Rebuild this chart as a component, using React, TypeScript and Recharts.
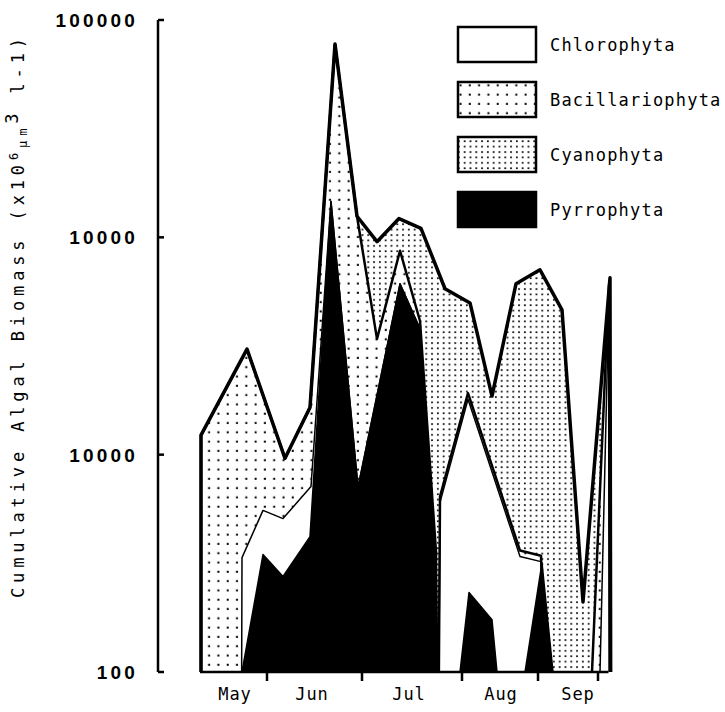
import React from 'react';
import { ComposedChart, Area, Line, XAxis, YAxis, ReferenceLine, Legend } from 'recharts';

// ---- axis data ----
const monthBoundaries = [21.8, 40.8, 60.8, 76, 88];
const monthCentres = [15.4, 30.8, 50.2, 68.6, 84];
const monthNames = ['May', 'Jun', 'Jul', 'Aug', 'Sep'];
const yTicks = [100, 1000, 10000, 100000];
const yTickLabels = ['100', '10000', '10000', '100000'];
const seriesNames = ['Chlorophyta', 'Bacillariophyta', 'Cyanophyta', 'Pyrrophyta'];

// ---- cumulative biomass boundaries (sampling position along season, value) ----
// values below 100 lie under the axis floor
// top of all groups (Cyanophyta band on top)
const totalT = [8.6, 8.6, 17.8, 25.4, 30.4, 35.4, 39.8, 43.8, 48.2, 52.6, 57.4, 62.4, 66.8, 71.6, 76.4, 80.8, 85.0, 90.4, 90.6];
const totalV = [10, 1230, 3060, 962, 1650, 77500, 12500, 9550, 12200, 11000, 5800, 4990, 1860, 6110, 7090, 4640, 210, 6510, 10];
// top of Bacillariophyta
const bacilT = [8.6, 8.6, 17.8, 25.4, 30.4, 35.4, 39.8, 43.8, 48.4, 52.4, 55.6, 55.9, 56.4, 62.0, 72.4, 76.6, 79.0, 86.7, 86.8, 90.2, 90.4];
const bacilV = [10, 1230, 3060, 962, 1650, 77500, 12500, 3410, 8680, 4120, 358, 10, 642, 1920, 362, 343, 10, 10, 100, 6050, 10];
// top of Chlorophyta
const chloroT = [16.6, 16.8, 21.0, 25.0, 30.6, 34.6, 40.0, 48.4, 52.4, 55.6, 55.9, 56.4, 62.0, 72.4, 76.6, 79.0, 88.3, 88.4, 90.2, 90.4];
const chloroV = [10, 336, 554, 508, 714, 14600, 707, 6110, 3790, 329, 10, 603, 1800, 340, 322, 10, 10, 100, 5500, 10];
// top of Pyrrophyta
const pyrroT = [16.6, 16.8, 21.0, 25.0, 30.4, 34.6, 40.0, 48.4, 52.4, 55.6, 56.0, 56.1, 60.3, 60.4, 62.2, 66.8, 67.8, 67.9, 73.3, 73.4, 76.8, 79.0, 79.1];
const pyrroV = [10, 100, 347, 275, 420, 14600, 707, 6110, 3790, 329, 100, 10, 10, 100, 232, 174, 100, 10, 10, 100, 318, 100, 10];

const toPoints = (ts: number[], vs: number[]) => ts.map((t, i) => ({ t, v: vs[i] }));
const totalData = toPoints(totalT, totalV);
const bacilData = toPoints(bacilT, bacilV);
const chloroData = toPoints(chloroT, chloroV);
const pyrroData = toPoints(pyrroT, pyrroV);

const MONO = '"DejaVu Sans Mono", monospace';

const Patterns = ({ prefix }: { prefix: string }) => (
  <defs>
    <pattern id={`${prefix}sparse`} width={9.3} height={9.3} patternUnits="userSpaceOnUse">
      <rect width={9.3} height={9.3} fill="#fff" />
      <rect x={3.5} y={3.5} width={2} height={2} fill="#000" />
    </pattern>
    <pattern id={`${prefix}dense`} width={5.8} height={5.4} patternUnits="userSpaceOnUse">
      <rect width={5.8} height={5.4} fill="#fff" />
      <rect x={2} y={2} width={1.7} height={1.7} fill="#000" />
    </pattern>
  </defs>
);

const legendFills = ['#fff', 'url(#lg-sparse)', 'url(#lg-dense)', '#000'];

const LegendContent = () => (
  <svg width={267} height={215}>
    <Patterns prefix="lg-" />
    {seriesNames.map((name, i) => {
      const top = 2 + i * 55;
      return (
        <g key={name}>
          <rect x={2} y={top} width={78} height={35} fill={legendFills[i]} stroke="#000" strokeWidth={2.5} />
          <text x={94} y={top + 18} dominantBaseline="central" fontFamily={MONO} fontSize={17} letterSpacing={1.2} fill="#000">
            {name}
          </text>
        </g>
      );
    })}
  </svg>
);

const YTick = (props: any) => {
  const { x, y, payload } = props;
  const idx = yTicks.indexOf(payload.value);
  return (
    <g>
      <line x1={x} x2={x + 6} y1={y} y2={y} stroke="#000" strokeWidth={2.5} />
      <text x={x - 20} y={y} dy={7} textAnchor="end" fontFamily='"Liberation Sans", Arial, sans-serif' fontWeight={700} fontSize={19} letterSpacing={3.2} fill="#000">
        {idx >= 0 ? yTickLabels[idx] : ''}
      </text>
    </g>
  );
};

const YTitle = () => (
  <text
    transform="translate(24, 318) rotate(-90)"
    x={0}
    y={0}
    textAnchor="middle"
    fontFamily={MONO}
    fontSize={17}
    fill="#000"
    textLength={560}
    lengthAdjust="spacing"
  >
    Cumulative Algal Biomass (x10
    <tspan dy={-6} fontSize={12}>6</tspan>
    <tspan dy={9} fontSize={12}>µm</tspan>
    <tspan dy={-9}>3</tspan>
    <tspan dy={6}> l-1)</tspan>
  </text>
);

export default function App() {
  return (
    <div>
      <style>{'body{margin:0;background:#fff}'}</style>
      <ComposedChart width={725} height={712} margin={{ top: 20, right: 107, bottom: 0, left: 0 }}>
        <Patterns prefix="pt-" />
        <XAxis
          dataKey="t"
          type="number"
          domain={[0, 92]}
          allowDataOverflow
          ticks={monthBoundaries}
          interval={0}
          axisLine={false}
          tickLine={{ stroke: '#000', strokeWidth: 2.5 }}
          tickSize={9}
          tickFormatter={() => ''}
          height={10}
        />
        <XAxis
          xAxisId="months"
          dataKey="t"
          type="number"
          domain={[0, 92]}
          allowDataOverflow
          ticks={monthCentres}
          interval={0}
          axisLine={false}
          tickLine={false}
          tickSize={0}
          tickMargin={6}
          tickFormatter={(_v: number, i: number) => monthNames[i]}
          tick={{ fill: '#000', fontFamily: MONO, fontSize: 17, letterSpacing: 1 }}
          height={30}
        />
        <YAxis
          type="number"
          scale="log"
          domain={[100, 100000]}
          allowDataOverflow
          ticks={yTicks}
          interval={0}
          width={158}
          axisLine={{ stroke: '#000', strokeWidth: 2.5 }}
          tickLine={false}
          tickSize={0}
          tickMargin={0}
          tick={<YTick />}
          label={() => <YTitle />}
        />
        <Area data={totalData} dataKey="v" name="Cyanophyta" fill="url(#pt-dense)" fillOpacity={1} stroke="none" baseValue="dataMin" isAnimationActive={false} />
        <Area data={bacilData} dataKey="v" name="Bacillariophyta" fill="url(#pt-sparse)" fillOpacity={1} stroke="none" baseValue="dataMin" isAnimationActive={false} />
        <Area data={chloroData} dataKey="v" name="Chlorophyta" fill="#fff" fillOpacity={1} stroke="none" baseValue="dataMin" isAnimationActive={false} />
        <Area data={pyrroData} dataKey="v" name="Pyrrophyta" fill="#000" fillOpacity={1} stroke="none" baseValue="dataMin" isAnimationActive={false} />
        <Line data={totalData} dataKey="v" stroke="#000" strokeWidth={3.5} dot={false} activeDot={false} strokeLinejoin="round" isAnimationActive={false} legendType="none" />
        <Line data={bacilData} dataKey="v" stroke="#000" strokeWidth={2.5} dot={false} activeDot={false} strokeLinejoin="round" isAnimationActive={false} legendType="none" />
        <Line data={chloroData} dataKey="v" stroke="#000" strokeWidth={1.5} dot={false} activeDot={false} strokeLinejoin="round" isAnimationActive={false} legendType="none" />
        <Line data={pyrroData} dataKey="v" stroke="#000" strokeWidth={1.5} dot={false} activeDot={false} strokeLinejoin="round" isAnimationActive={false} legendType="none" />
        <ReferenceLine
          segment={[{ x: totalT[0] - 0.2, y: yTicks[0] }, { x: totalT[totalT.length - 1] - 0.5, y: yTicks[0] }]}
          stroke="#000"
          strokeWidth={2.5}
          ifOverflow="visible"
        />
        <Legend
          layout="horizontal"
          verticalAlign="middle"
          align="center"
          wrapperStyle={{ top: 25, left: 456, width: 267, height: 215 }}
          content={() => <LegendContent />}
        />
      </ComposedChart>
    </div>
  );
}
